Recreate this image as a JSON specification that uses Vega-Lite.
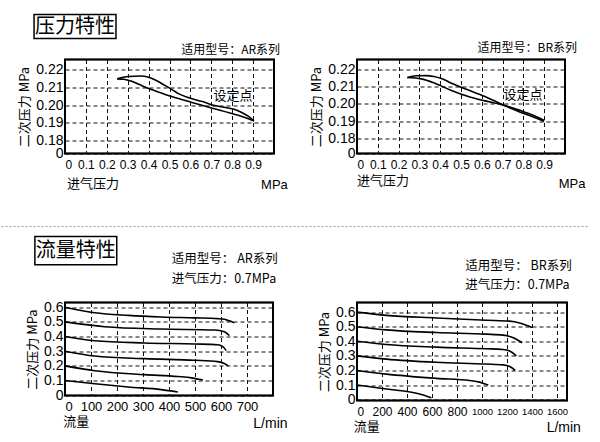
{
  "$schema": "https://vega.github.io/schema/vega-lite/v6.json",
  "background": "white",
  "padding": {"left": 0, "top": 12.5, "right": 0, "bottom": 0},
  "autosize": {"type": "pad"},
  "bounds": "flush",
  "columns": 2,
  "spacing": {"row": 149, "column": 83},
  "config": {
    "font": "Liberation Sans",
    "view": {"stroke": "#000", "strokeWidth": 1.5},
    "axis": {"grid": true, "gridColor": "#111", "gridDash": [4, 3], "gridWidth": 1, "gridOpacity": 1, "ticks": false, "domain": false, "labelColor": "#000", "labelFont": "Liberation Sans", "titleFont": "Noto Sans CJK SC", "titleFontWeight": "normal", "titleColor": "#000", "titleFontSize": 13, "labelOverlap": false},
    "text": {"font": "Noto Sans CJK SC", "color": "#000"},
    "line": {"color": "#000", "strokeWidth": 1.6}
  },
  "concat": [
    {
      "width": 209, "height": 94,
      "layer": [
        {
          "data": {"values": [
            {"in": 0.25, "p": 0.2149, "b": "up"}, {"in": 0.28, "p": 0.2158, "b": "up"}, {"in": 0.306, "p": 0.2162, "b": "up"}, {"in": 0.36, "p": 0.2165, "b": "up"}, {"in": 0.4, "p": 0.2158, "b": "up"}, {"in": 0.434, "p": 0.2141, "b": "up"}, {"in": 0.482, "p": 0.2109, "b": "up"}, {"in": 0.514, "p": 0.2087, "b": "up"}, {"in": 0.545, "p": 0.2064, "b": "up"}, {"in": 0.593, "p": 0.2042, "b": "up"}, {"in": 0.657, "p": 0.2021, "b": "up"}, {"in": 0.705, "p": 0.2002, "b": "up"}, {"in": 0.769, "p": 0.1987, "b": "up"}, {"in": 0.809, "p": 0.1977, "b": "up"}, {"in": 0.848, "p": 0.1958, "b": "up"}, {"in": 0.88, "p": 0.1936, "b": "up"}, {"in": 0.904, "p": 0.1911, "b": "up"},
            {"in": 0.25, "p": 0.2149, "b": "dn"}, {"in": 0.282, "p": 0.2147, "b": "dn"}, {"in": 0.322, "p": 0.2134, "b": "dn"}, {"in": 0.37, "p": 0.2109, "b": "dn"}, {"in": 0.418, "p": 0.2087, "b": "dn"}, {"in": 0.498, "p": 0.2053, "b": "dn"}, {"in": 0.593, "p": 0.2021, "b": "dn"}, {"in": 0.689, "p": 0.1989, "b": "dn"}, {"in": 0.785, "p": 0.1958, "b": "dn"}, {"in": 0.864, "p": 0.193, "b": "dn"}, {"in": 0.904, "p": 0.1911, "b": "dn"}
          ]},
          "mark": {"type": "line", "color": "#000", "strokeWidth": 1.6, "interpolate": "monotone"},
          "encoding": {
            "x": {"field": "in", "type": "quantitative", "scale": {"domain": [0, 1], "nice": false, "zero": false},
                  "axis": {"values": [0, 0.1, 0.2, 0.3, 0.4, 0.5, 0.6, 0.7, 0.8, 0.9], "tickCount": 40, "labelExpr": "datum.value == 0 ? '0' : format(datum.value, '.1f')", "title": null, "labelFontSize": 12, "labelPadding": 6, "labelOverlap": false}},
            "y": {"field": "p", "type": "quantitative", "scale": {"domain": [0.1728, 0.2258], "nice": false, "zero": false},
                  "axis": {"values": [0.1728, 0.18, 0.19, 0.2, 0.21, 0.22], "tickCount": 40, "labelExpr": "datum.value < 0.175 ? '0' : format(datum.value, '.2f')", "title": "二次压力 MPa", "labelFontSize": 14, "labelPadding": 2, "labelOverlap": false}},
            "detail": {"field": "b"}
          }
        },
        {"data": {"values": [{}]}, "mark": {"type": "rect", "fillOpacity": 0, "stroke": "#000", "strokeWidth": 2},
         "encoding": {"x": {"datum": 0, "type": "quantitative"}, "x2": {"datum": 1}, "y": {"datum": 0.1728, "type": "quantitative"}, "y2": {"datum": 0.2258}}},
        {"data": {"values": [{}]}, "mark": {"type": "rect", "fillOpacity": 0, "stroke": "#000", "strokeWidth": 1.5},
         "encoding": {"x": {"datum": -0.148, "type": "quantitative"}, "x2": {"datum": 0.244}, "y": {"datum": 0.2376, "type": "quantitative"}, "y2": {"datum": 0.2512}}},
        {"data": {"values": [{}]}, "mark": {"type": "text", "fontSize": 20, "align": "center", "baseline": "middle"},
         "encoding": {"x": {"datum": 0.048, "type": "quantitative"}, "y": {"datum": 0.2444, "type": "quantitative"}, "text": {"value": "压力特性"}}},
        {"data": {"values": [{}]}, "mark": {"type": "text", "fontSize": 12, "align": "right", "baseline": "middle"},
         "encoding": {"x": {"datum": 1.029, "type": "quantitative"}, "y": {"datum": 0.2314, "type": "quantitative"}, "text": {"value": "适用型号：AR系列"}}},
        {"data": {"values": [{}]}, "mark": {"type": "text", "fontSize": 13, "align": "center", "baseline": "middle"},
         "encoding": {"x": {"datum": 0.804, "type": "quantitative"}, "y": {"datum": 0.2052, "type": "quantitative"}, "text": {"value": "设定点"}}},
        {"data": {"values": [{}]}, "mark": {"type": "text", "fontSize": 13, "align": "left", "baseline": "middle"},
         "encoding": {"x": {"datum": 0.01, "type": "quantitative"}, "y": {"datum": 0.1555, "type": "quantitative"}, "text": {"value": "进气压力"}}},
        {"data": {"values": [{}]}, "mark": {"type": "text", "fontSize": 13, "align": "center", "baseline": "middle", "font": "Liberation Sans"},
         "encoding": {"x": {"datum": 1.002, "type": "quantitative"}, "y": {"datum": 0.1552, "type": "quantitative"}, "text": {"value": "MPa"}}}
      ]
    },
    {
      "width": 208, "height": 94,
      "layer": [
        {
          "data": {"values": [
            {"in": 0.242, "p": 0.2152, "b": "up"}, {"in": 0.285, "p": 0.2162, "b": "up"}, {"in": 0.33, "p": 0.2163, "b": "up"}, {"in": 0.37, "p": 0.2158, "b": "up"}, {"in": 0.406, "p": 0.2146, "b": "up"}, {"in": 0.454, "p": 0.2119, "b": "up"}, {"in": 0.519, "p": 0.2087, "b": "up"}, {"in": 0.615, "p": 0.2042, "b": "up"}, {"in": 0.696, "p": 0.1998, "b": "up"}, {"in": 0.776, "p": 0.1965, "b": "up"}, {"in": 0.841, "p": 0.1937, "b": "up"}, {"in": 0.9, "p": 0.1904, "b": "up"},
            {"in": 0.242, "p": 0.2152, "b": "dn"}, {"in": 0.309, "p": 0.2144, "b": "dn"}, {"in": 0.374, "p": 0.2119, "b": "dn"}, {"in": 0.454, "p": 0.2077, "b": "dn"}, {"in": 0.535, "p": 0.2042, "b": "dn"}, {"in": 0.615, "p": 0.2017, "b": "dn"}, {"in": 0.696, "p": 0.1994, "b": "dn"}, {"in": 0.776, "p": 0.1956, "b": "dn"}, {"in": 0.841, "p": 0.1927, "b": "dn"}, {"in": 0.9, "p": 0.19, "b": "dn"}
          ]},
          "mark": {"type": "line", "color": "#000", "strokeWidth": 1.6, "interpolate": "monotone"},
          "encoding": {
            "x": {"field": "in", "type": "quantitative", "scale": {"domain": [0, 1], "nice": false, "zero": false},
                  "axis": {"values": [0, 0.1, 0.2, 0.3, 0.4, 0.5, 0.6, 0.7, 0.8, 0.9], "tickCount": 40, "labelExpr": "datum.value == 0 ? '0' : format(datum.value, '.1f')", "title": null, "labelFontSize": 12, "labelPadding": 6, "labelOverlap": false}},
            "y": {"field": "p", "type": "quantitative", "scale": {"domain": [0.1713, 0.2256], "nice": false, "zero": false},
                  "axis": {"values": [0.1713, 0.18, 0.19, 0.2, 0.21, 0.22], "tickCount": 40, "labelExpr": "datum.value < 0.175 ? '0' : format(datum.value, '.2f')", "title": "二次压力 MPa", "labelFontSize": 14, "labelPadding": 2, "labelOverlap": false}},
            "detail": {"field": "b"}
          }
        },
        {"data": {"values": [{}]}, "mark": {"type": "rect", "fillOpacity": 0, "stroke": "#000", "strokeWidth": 2},
         "encoding": {"x": {"datum": 0, "type": "quantitative"}, "x2": {"datum": 1}, "y": {"datum": 0.1713, "type": "quantitative"}, "y2": {"datum": 0.2256}}},
        {"data": {"values": [{}]}, "mark": {"type": "text", "fontSize": 12, "align": "right", "baseline": "middle"},
         "encoding": {"x": {"datum": 1.058, "type": "quantitative"}, "y": {"datum": 0.2321, "type": "quantitative"}, "text": {"value": "适用型号：BR系列"}}},
        {"data": {"values": [{}]}, "mark": {"type": "text", "fontSize": 13, "align": "center", "baseline": "middle"},
         "encoding": {"x": {"datum": 0.798, "type": "quantitative"}, "y": {"datum": 0.2051, "type": "quantitative"}, "text": {"value": "设定点"}}},
        {"data": {"values": [{}]}, "mark": {"type": "text", "fontSize": 13, "align": "left", "baseline": "middle"},
         "encoding": {"x": {"datum": 0, "type": "quantitative"}, "y": {"datum": 0.1555, "type": "quantitative"}, "text": {"value": "进气压力"}}},
        {"data": {"values": [{}]}, "mark": {"type": "text", "fontSize": 13, "align": "center", "baseline": "middle", "font": "Liberation Sans"},
         "encoding": {"x": {"datum": 1.034, "type": "quantitative"}, "y": {"datum": 0.1538, "type": "quantitative"}, "text": {"value": "MPa"}}}
      ]
    },
    {
      "width": 208, "height": 93,
      "layer": [
        {
          "data": {"values": [
            {"q": 0, "p": 0.6, "s": "6"}, {"q": 115, "p": 0.562, "s": "6"}, {"q": 243, "p": 0.544, "s": "6"}, {"q": 370, "p": 0.533, "s": "6"}, {"q": 498, "p": 0.527, "s": "6"}, {"q": 587, "p": 0.522, "s": "6"}, {"q": 613, "p": 0.518, "s": "6"}, {"q": 632, "p": 0.507, "s": "6"}, {"q": 651, "p": 0.493, "s": "6"},
            {"q": 0, "p": 0.5, "s": "5"}, {"q": 153, "p": 0.467, "s": "5"}, {"q": 370, "p": 0.451, "s": "5"}, {"q": 575, "p": 0.444, "s": "5"}, {"q": 613, "p": 0.433, "s": "5"}, {"q": 632, "p": 0.407, "s": "5"},
            {"q": 0, "p": 0.4, "s": "4"}, {"q": 115, "p": 0.371, "s": "4"}, {"q": 306, "p": 0.356, "s": "4"}, {"q": 498, "p": 0.349, "s": "4"}, {"q": 587, "p": 0.344, "s": "4"}, {"q": 606, "p": 0.333, "s": "4"}, {"q": 620, "p": 0.304, "s": "4"},
            {"q": 0, "p": 0.3, "s": "3"}, {"q": 115, "p": 0.267, "s": "3"}, {"q": 306, "p": 0.249, "s": "3"}, {"q": 498, "p": 0.238, "s": "3"}, {"q": 587, "p": 0.229, "s": "3"}, {"q": 613, "p": 0.216, "s": "3"}, {"q": 628, "p": 0.2, "s": "3"},
            {"q": 0, "p": 0.2, "s": "2"}, {"q": 115, "p": 0.167, "s": "2"}, {"q": 306, "p": 0.14, "s": "2"}, {"q": 434, "p": 0.127, "s": "2"}, {"q": 487, "p": 0.118, "s": "2"}, {"q": 515, "p": 0.108, "s": "2"}, {"q": 530, "p": 0.104, "s": "2"},
            {"q": 0, "p": 0.1, "s": "1"}, {"q": 115, "p": 0.078, "s": "1"}, {"q": 243, "p": 0.056, "s": "1"}, {"q": 370, "p": 0.038, "s": "1"}, {"q": 434, "p": 0.022, "s": "1"}
          ]},
          "mark": {"type": "line", "color": "#000", "strokeWidth": 1.6, "interpolate": "monotone"},
          "encoding": {
            "x": {"field": "q", "type": "quantitative", "scale": {"domain": [0, 800], "nice": false, "zero": false},
                  "axis": {"values": [0, 100, 200, 300, 400, 500, 600, 700], "tickCount": 40, "format": "d", "title": null, "labelFontSize": 13, "labelPadding": 5, "labelOverlap": false}},
            "y": {"field": "p", "type": "quantitative", "scale": {"domain": [-0.0023, 0.632], "nice": false, "zero": false},
                  "axis": {"values": [0, 0.1, 0.2, 0.3, 0.4, 0.5, 0.6], "tickCount": 40, "labelExpr": "datum.value == 0 ? '0' : format(datum.value, '.1f')", "title": "二次压力 MPa", "labelFontSize": 14, "labelPadding": 2, "labelOverlap": false}},
            "detail": {"field": "s"}
          }
        },
        {"data": {"values": [{}]}, "mark": {"type": "rect", "fillOpacity": 0, "stroke": "#000", "strokeWidth": 2},
         "encoding": {"x": {"datum": 0, "type": "quantitative"}, "x2": {"datum": 800}, "y": {"datum": -0.0023, "type": "quantitative"}, "y2": {"datum": 0.632}}},
        {"data": {"values": [{}]}, "mark": {"type": "rule", "color": "#999", "strokeWidth": 1, "strokeDash": [2, 2]},
         "encoding": {"x": {"datum": -244, "type": "quantitative"}, "x2": {"datum": 2018}, "y": {"datum": 1.1505, "type": "quantitative"}}},
        {"data": {"values": [{}]}, "mark": {"type": "rect", "fillOpacity": 0, "stroke": "#000", "strokeWidth": 1.5},
         "encoding": {"x": {"datum": -115.8, "type": "quantitative"}, "x2": {"datum": 199}, "y": {"datum": 0.8892, "type": "quantitative"}, "y2": {"datum": 1.0823}}},
        {"data": {"values": [{}]}, "mark": {"type": "text", "fontSize": 20, "align": "center", "baseline": "middle"},
         "encoding": {"x": {"datum": 41.6, "type": "quantitative"}, "y": {"datum": 0.986, "type": "quantitative"}, "text": {"value": "流量特性"}}},
        {"data": {"values": [{}]}, "mark": {"type": "text", "fontSize": 12.5, "align": "left", "baseline": "middle"},
         "encoding": {"x": {"datum": 411, "type": "quantitative"}, "y": {"datum": 0.9288, "type": "quantitative"}, "text": {"value": "适用型号： AR系列"}}},
        {"data": {"values": [{}]}, "mark": {"type": "text", "fontSize": 12.5, "align": "left", "baseline": "middle"},
         "encoding": {"x": {"datum": 411, "type": "quantitative"}, "y": {"datum": 0.7924, "type": "quantitative"}, "text": {"value": "进气压力：0.7MPa"}}},
        {"data": {"values": [{}]}, "mark": {"type": "text", "fontSize": 13, "align": "left", "baseline": "middle"},
         "encoding": {"x": {"datum": -6.4, "type": "quantitative"}, "y": {"datum": -0.18, "type": "quantitative"}, "text": {"value": "流量"}}},
        {"data": {"values": [{}]}, "mark": {"type": "text", "fontSize": 14, "align": "center", "baseline": "middle", "font": "Liberation Sans"},
         "encoding": {"x": {"datum": 790, "type": "quantitative"}, "y": {"datum": -0.1967, "type": "quantitative"}, "text": {"value": "L/min"}}}
      ]
    },
    {
      "width": 210, "height": 98,
      "layer": [
        {
          "data": {"values": [
            {"q": 0, "p": 0.6, "s": "6"}, {"q": 235, "p": 0.578, "s": "6"}, {"q": 635, "p": 0.56, "s": "6"}, {"q": 1035, "p": 0.544, "s": "6"}, {"q": 1221, "p": 0.538, "s": "6"}, {"q": 1301, "p": 0.526, "s": "6"}, {"q": 1368, "p": 0.506, "s": "6"}, {"q": 1400, "p": 0.495, "s": "6"},
            {"q": 0, "p": 0.5, "s": "5"}, {"q": 235, "p": 0.478, "s": "5"}, {"q": 635, "p": 0.46, "s": "5"}, {"q": 1035, "p": 0.449, "s": "5"}, {"q": 1168, "p": 0.442, "s": "5"}, {"q": 1235, "p": 0.429, "s": "5"}, {"q": 1288, "p": 0.407, "s": "5"}, {"q": 1320, "p": 0.39, "s": "5"},
            {"q": 0, "p": 0.4, "s": "4"}, {"q": 235, "p": 0.378, "s": "4"}, {"q": 635, "p": 0.36, "s": "4"}, {"q": 1035, "p": 0.349, "s": "4"}, {"q": 1168, "p": 0.344, "s": "4"}, {"q": 1221, "p": 0.333, "s": "4"}, {"q": 1261, "p": 0.311, "s": "4"}, {"q": 1275, "p": 0.3, "s": "4"},
            {"q": 0, "p": 0.3, "s": "3"}, {"q": 235, "p": 0.278, "s": "3"}, {"q": 635, "p": 0.256, "s": "3"}, {"q": 1035, "p": 0.244, "s": "3"}, {"q": 1168, "p": 0.238, "s": "3"}, {"q": 1221, "p": 0.227, "s": "3"}, {"q": 1255, "p": 0.208, "s": "3"}, {"q": 1265, "p": 0.2, "s": "3"},
            {"q": 0, "p": 0.2, "s": "2"}, {"q": 235, "p": 0.175, "s": "2"}, {"q": 635, "p": 0.146, "s": "2"}, {"q": 901, "p": 0.131, "s": "2"}, {"q": 981, "p": 0.12, "s": "2"}, {"q": 1035, "p": 0.104, "s": "2"}, {"q": 1050, "p": 0.1, "s": "2"},
            {"q": 0, "p": 0.1, "s": "1"}, {"q": 235, "p": 0.073, "s": "1"}, {"q": 501, "p": 0.039, "s": "1"}, {"q": 570, "p": 0.02, "s": "1"}, {"q": 595, "p": 0.012, "s": "1"}
          ]},
          "mark": {"type": "line", "color": "#000", "strokeWidth": 1.6, "interpolate": "monotone"},
          "encoding": {
            "x": {"field": "q", "type": "quantitative", "scale": {"domain": [0, 1680], "nice": false, "zero": false},
                  "axis": {"values": [0, 200, 400, 600, 800, 1000, 1200, 1400, 1600], "tickCount": 40, "format": "d", "title": null, "labelFontSize": {"condition": {"test": "datum.value >= 1000", "value": 9.5}, "value": 12}, "labelFont": {"condition": {"test": "datum.value >= 1000", "value": "Liberation Sans Narrow, Liberation Sans"}, "value": "Liberation Sans"}, "labelPadding": 6, "labelOverlap": false}},
            "y": {"field": "p", "type": "quantitative", "scale": {"domain": [-0.006, 0.666], "nice": false, "zero": false},
                  "axis": {"values": [0, 0.1, 0.2, 0.3, 0.4, 0.5, 0.6], "tickCount": 40, "labelExpr": "datum.value == 0 ? '0' : format(datum.value, '.1f')", "title": "二次压力 MPa", "labelFontSize": 14, "labelPadding": 2, "labelOverlap": false}},
            "detail": {"field": "s"}
          }
        },
        {"data": {"values": [{}]}, "mark": {"type": "rect", "fillOpacity": 0, "stroke": "#000", "strokeWidth": 2},
         "encoding": {"x": {"datum": 0, "type": "quantitative"}, "x2": {"datum": 1680}, "y": {"datum": -0.006, "type": "quantitative"}, "y2": {"datum": 0.666}}},
        {"data": {"values": [{}]}, "mark": {"type": "text", "fontSize": 12.5, "align": "left", "baseline": "middle"},
         "encoding": {"x": {"datum": 866, "type": "quantitative"}, "y": {"datum": 0.9186, "type": "quantitative"}, "text": {"value": "适用型号： BR系列"}}},
        {"data": {"values": [{}]}, "mark": {"type": "text", "fontSize": 12.5, "align": "left", "baseline": "middle"},
         "encoding": {"x": {"datum": 866, "type": "quantitative"}, "y": {"datum": 0.7869, "type": "quantitative"}, "text": {"value": "进气压力：0.7MPa"}}},
        {"data": {"values": [{}]}, "mark": {"type": "text", "fontSize": 13, "align": "left", "baseline": "middle"},
         "encoding": {"x": {"datum": -26, "type": "quantitative"}, "y": {"datum": -0.1865, "type": "quantitative"}, "text": {"value": "流量"}}},
        {"data": {"values": [{}]}, "mark": {"type": "text", "fontSize": 14, "align": "center", "baseline": "middle", "font": "Liberation Sans"},
         "encoding": {"x": {"datum": 1654, "type": "quantitative"}, "y": {"datum": -0.1967, "type": "quantitative"}, "text": {"value": "L/min"}}}
      ]
    }
  ]
}
